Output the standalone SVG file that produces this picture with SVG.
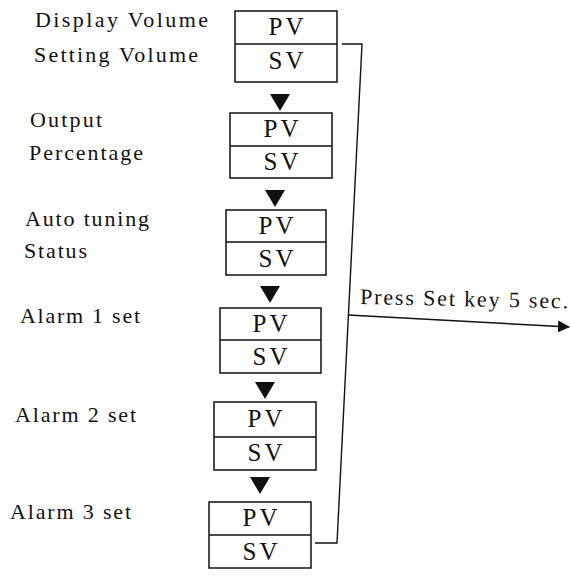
<svg xmlns="http://www.w3.org/2000/svg" xmlns:xlink="http://www.w3.org/1999/xlink" width="571" height="576" viewBox="0 0 571 576">
<style>
  .bg{fill:#ffffff}
  .box{fill:#ffffff;stroke:#111;stroke-width:1.5}
  .div{stroke:#111;stroke-width:1.5;fill:none}
  .lbl{font-family:"Liberation Serif","Times New Roman",serif;font-size:22px;fill:#111}
  .cell{font-family:"Liberation Serif","Times New Roman",serif;font-size:25px;fill:#111;text-anchor:middle}
  .wire{fill:none;stroke:#111;stroke-width:1.4}
  .tri{fill:#111}
</style>
<defs>
  <marker id="ah" markerWidth="12" markerHeight="12" refX="11" refY="6" orient="auto" markerUnits="userSpaceOnUse">
    <path d="M0,0 L12,6 L0,12 Z" fill="#111"/>
  </marker>
  <path id="down" d="M-10,0 L10,0 L0,17 Z"/>
</defs>
<rect class="bg" x="0" y="0" width="571" height="576"/>

<g id="node1">
  <text class="lbl" x="35" y="27" textLength="173" lengthAdjust="spacing">Display Volume</text>
  <text class="lbl" x="34" y="62" textLength="164" lengthAdjust="spacing">Setting Volume</text>
  <rect class="box" x="235" y="11" width="102" height="71"/>
  <line class="div" x1="235" y1="44" x2="337" y2="44"/>
  <text class="cell" x="286" y="35" textLength="35" lengthAdjust="spacing">PV</text>
  <text class="cell" x="286" y="69" textLength="35" lengthAdjust="spacing">SV</text>
</g>
<g id="node2">
  <text class="lbl" x="30" y="127" textLength="72" lengthAdjust="spacing">Output</text>
  <text class="lbl" x="29" y="160" textLength="114" lengthAdjust="spacing">Percentage</text>
  <rect class="box" x="230" y="113" width="102" height="65"/>
  <line class="div" x1="230" y1="146" x2="332" y2="146"/>
  <text class="cell" x="281" y="137" textLength="35" lengthAdjust="spacing">PV</text>
  <text class="cell" x="281" y="170" textLength="35" lengthAdjust="spacing">SV</text>
</g>
<g id="node3">
  <text class="lbl" x="25" y="226" textLength="124" lengthAdjust="spacing">Auto tuning</text>
  <text class="lbl" x="24" y="258" textLength="63" lengthAdjust="spacing">Status</text>
  <rect class="box" x="226" y="210" width="100" height="65"/>
  <line class="div" x1="226" y1="242" x2="326" y2="242"/>
  <text class="cell" x="276" y="234" textLength="35" lengthAdjust="spacing">PV</text>
  <text class="cell" x="276" y="267" textLength="35" lengthAdjust="spacing">SV</text>
</g>
<g id="node4">
  <text class="lbl" x="20" y="323" textLength="120" lengthAdjust="spacing">Alarm 1 set</text>
  <rect class="box" x="220" y="308" width="101" height="65"/>
  <line class="div" x1="220" y1="340" x2="321" y2="340"/>
  <text class="cell" x="270" y="332" textLength="35" lengthAdjust="spacing">PV</text>
  <text class="cell" x="270" y="365" textLength="35" lengthAdjust="spacing">SV</text>
</g>
<g id="node5">
  <text class="lbl" x="15" y="422" textLength="121" lengthAdjust="spacing">Alarm 2 set</text>
  <rect class="box" x="214" y="402" width="102" height="68"/>
  <line class="div" x1="214" y1="437" x2="316" y2="437"/>
  <text class="cell" x="265" y="427" textLength="35" lengthAdjust="spacing">PV</text>
  <text class="cell" x="265" y="461" textLength="35" lengthAdjust="spacing">SV</text>
</g>
<g id="node6">
  <text class="lbl" x="10" y="519" textLength="121" lengthAdjust="spacing">Alarm 3 set</text>
  <rect class="box" x="209" y="502" width="102" height="66"/>
  <line class="div" x1="209" y1="535" x2="311" y2="535"/>
  <text class="cell" x="260" y="526" textLength="35" lengthAdjust="spacing">PV</text>
  <text class="cell" x="260" y="560" textLength="35" lengthAdjust="spacing">SV</text>
</g>

<g id="connectors">
  <use xlink:href="#down" class="tri" x="280" y="94"/>
  <use xlink:href="#down" class="tri" x="275" y="190"/>
  <use xlink:href="#down" class="tri" x="270" y="286"/>
  <use xlink:href="#down" class="tri" x="265" y="382"/>
  <use xlink:href="#down" class="tri" x="260" y="477"/>
  <path class="wire" d="M342,44 L362,44 L337,543 L315,543"/>
  <line class="wire" x1="348" y1="315" x2="569" y2="327" marker-end="url(#ah)"/>
  <text class="lbl" x="360" y="304" textLength="208" lengthAdjust="spacing" transform="rotate(1.2 360 304)">Press Set key 5 sec.</text>
</g>
</svg>
